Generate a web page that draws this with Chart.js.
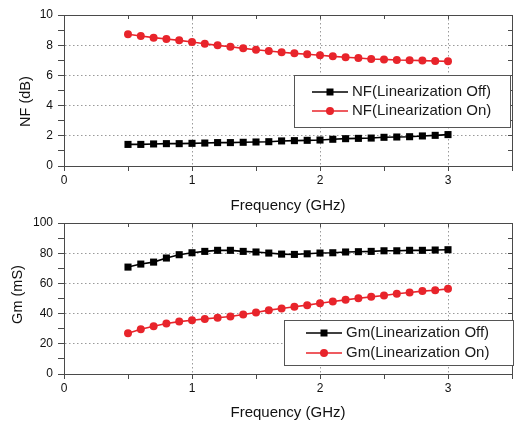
<!DOCTYPE html>
<html>
<head>
<meta charset="utf-8">
<script src="https://cdn.jsdelivr.net/npm/chart.js@4.4.0/dist/chart.umd.min.js"></script>
<style>
html, body { margin: 0; padding: 0; background: #fff; }
#wrap { position: relative; width: 517px; height: 423px; overflow: hidden; }
.panel { position: absolute; left: 0; width: 517px; }
</style>
</head>
<body>
<div id="wrap">
  <div class="panel" style="top:0;height:216px"><canvas id="nfChart" width="517" height="216"></canvas></div>
  <div class="panel" style="top:210px;height:213px"><canvas id="gmChart" width="517" height="213"></canvas></div>
</div>
<script>
// frequency points, GHz
const freq = [0.5, 0.6, 0.7, 0.8, 0.9, 1.0, 1.1, 1.2, 1.3, 1.4, 1.5, 1.6, 1.7,
              1.8, 1.9, 2.0, 2.1, 2.2, 2.3, 2.4, 2.5, 2.6, 2.7, 2.8, 2.9, 3.0];

// noise figure, dB
const nfOff = [1.43, 1.43, 1.46, 1.48, 1.48, 1.50, 1.52, 1.55, 1.55, 1.57, 1.59, 1.61, 1.66,
               1.68, 1.70, 1.72, 1.77, 1.81, 1.83, 1.85, 1.90, 1.92, 1.94, 1.99, 2.03, 2.08];
const nfOn  = [8.72, 8.61, 8.50, 8.41, 8.32, 8.21, 8.10, 7.99, 7.90, 7.79, 7.70, 7.62, 7.53,
               7.46, 7.40, 7.33, 7.26, 7.20, 7.15, 7.09, 7.06, 7.02, 7.00, 6.98, 6.95, 6.93];

// transconductance, mS
const gmOff = [70.8, 72.8, 74.1, 76.8, 79.0, 80.3, 81.2, 81.9, 81.9, 81.2, 80.8, 80.1, 79.4,
               79.2, 79.6, 80.1, 80.3, 80.8, 81.0, 81.2, 81.6, 81.6, 81.9, 81.9, 82.1, 82.3];
const gmOn  = [27.0, 29.6, 31.6, 33.4, 34.7, 35.6, 36.5, 37.2, 38.1, 39.4, 40.7, 42.3, 43.4,
               44.5, 45.6, 46.9, 48.0, 49.1, 50.2, 51.1, 52.0, 53.1, 54.0, 54.9, 55.5, 56.4];

const nfLabels = ["NF(Linearization Off)", "NF(Linearization On)"];
const gmLabels = ["Gm(Linearization Off)", "Gm(Linearization On)"];

const FONT = "'Liberation Sans', Arial, sans-serif";
const AXIS = "#4a4a4a";
const GRID = "#9a9a9a";
const RED = "#e8242b";
const NONE = "rgba(0,0,0,0)";

function pts(ys) {
    return freq.map((f, i) => ({ x: f, y: ys[i] }));
}

// legend drawn as a framed box inside the plot
const boxLegend = {
    id: "boxLegend",
    afterDraw(chart, args, opts) {
        const ctx = chart.ctx;
        ctx.save();
        ctx.fillStyle = "#fff";
        ctx.fillRect(opts.left, opts.top, opts.width, opts.height);
        ctx.strokeStyle = "#555";
        ctx.lineWidth = 1;
        ctx.strokeRect(opts.left + 0.5, opts.top + 0.5, opts.width, opts.height);
        ctx.font = "15px " + FONT;
        ctx.textBaseline = "middle";
        chart.data.datasets.forEach((ds, i) => {
            const y = opts.top + opts.rows[i];
            const x0 = opts.left + opts.lineX;
            const x1 = x0 + 36;
            ctx.strokeStyle = ds.borderColor;
            ctx.lineWidth = 1.6;
            ctx.beginPath();
            ctx.moveTo(x0, y);
            ctx.lineTo(x1, y);
            ctx.stroke();
            ctx.fillStyle = ds.borderColor;
            const cx = (x0 + x1) / 2;
            ctx.beginPath();
            if (ds.pointStyle === "rect") {
                ctx.rect(cx - 3.5, y - 3.5, 7, 7);
            } else {
                ctx.arc(cx, y, 4, 0, Math.PI * 2);
            }
            ctx.fill();
            ctx.fillStyle = "#1a1a1a";
            ctx.fillText(ds.label, x1 + 4, y);
        });
        ctx.restore();
    }
};

// rotated y title, placed a little off the axis centre like the original
const yTitle = {
    id: "yTitle",
    afterDraw(chart, args, opts) {
        const ctx = chart.ctx;
        const a = chart.chartArea;
        ctx.save();
        ctx.translate(opts.x, (a.top + a.bottom) / 2 + opts.dy);
        ctx.rotate(-Math.PI / 2);
        ctx.font = "14.5px " + FONT;
        ctx.fillStyle = "#111";
        ctx.textAlign = "center";
        ctx.textBaseline = "middle";
        ctx.fillText(opts.text, 0, 0);
        ctx.restore();
    }
};

function makeChart(id, labels, offData, onData, yMax, yStep, yLabelStep, cfg) {
    const yMinor = (v) => Math.abs(v / yLabelStep - Math.round(v / yLabelStep)) > 1e-6;
    return new Chart(document.getElementById(id), {
        type: "line",
        data: {
            datasets: [
                {
                    label: labels[0], data: pts(offData),
                    borderColor: "#000", backgroundColor: "#000",
                    borderWidth: 1.6, pointStyle: "rect", pointRadius: 5,
                    pointBorderWidth: 0
                },
                {
                    label: labels[1], data: pts(onData),
                    borderColor: RED, backgroundColor: RED,
                    borderWidth: 1.6, pointStyle: "circle", pointRadius: 4,
                    pointBorderWidth: 0
                }
            ]
        },
        options: {
            responsive: false,
            animation: false,
            layout: { padding: { top: cfg.padTop, right: 1, left: 0, bottom: 0 } },
            plugins: {
                legend: { display: false },
                tooltip: { enabled: false },
                boxLegend: cfg.legend,
                yTitle: cfg.yTitle
            },
            scales: {
                x: {
                    type: "linear", min: 0, max: 3.5,
                    afterFit: (s) => { s.height = cfg.xHeight; },
                    ticks: {
                        stepSize: 0.5, autoSkip: false, maxRotation: 0, padding: 2,
                        color: "#111", font: { family: FONT, size: 12 },
                        callback: (v) => (v % 1 === 0 ? v : "")
                    },
                    grid: {
                        color: (c) => (c.tick && c.tick.value % 1 === 0 && c.tick.value > 0 && c.tick.value < 3.5) ? GRID : NONE,
                        tickColor: AXIS, tickLength: 5, lineWidth: 1
                    },
                    border: { color: AXIS, width: 1, dash: [1.5, 2.5] },
                    title: {
                        display: true, text: "Frequency (GHz)", color: "#111",
                        font: { family: FONT, size: 15 }, padding: { top: 0, bottom: 1 }
                    }
                },
                y: {
                    min: 0, max: yMax,
                    afterFit: (s) => { s.width = 64; },
                    ticks: {
                        stepSize: yStep, autoSkip: false, padding: 5,
                        color: "#111", font: { family: FONT, size: 12 },
                        callback: (v) => (yMinor(v) ? "" : v)
                    },
                    grid: {
                        color: (c) => (c.tick && !yMinor(c.tick.value) && c.tick.value > 0 && c.tick.value < yMax) ? GRID : NONE,
                        tickColor: AXIS, tickLength: 6, lineWidth: 1
                    },
                    border: { color: AXIS, width: 1, dash: [1.5, 2.5] }
                },
                x2: {
                    type: "linear", position: "top", min: 0, max: 3.5,
                    afterFit: (s) => { s.height = 0; },
                    ticks: { display: false, stepSize: 0.5 },
                    grid: { drawOnChartArea: false, drawTicks: true, tickLength: -4, tickColor: AXIS, color: NONE },
                    border: { color: AXIS, width: 1 }
                },
                y2: {
                    position: "right", min: 0, max: yMax,
                    afterFit: (s) => { s.width = 0; },
                    ticks: { display: false, stepSize: yStep },
                    grid: { drawOnChartArea: false, drawTicks: true, tickLength: -4, tickColor: AXIS, color: NONE },
                    border: { color: AXIS, width: 1 }
                }
            }
        },
        plugins: [boxLegend, yTitle]
    });
}

makeChart("nfChart", nfLabels, nfOff, nfOn, 10, 1, 2, {
    padTop: 15, xHeight: 50,
    yTitle: { text: "NF (dB)", x: 25.5, dy: 11 },
    legend: { left: 294, top: 75, width: 216, height: 52, lineX: 18, rows: [17, 36] }
});

makeChart("gmChart", gmLabels, gmOff, gmOn, 100, 10, 20, {
    padTop: 13, xHeight: 49,
    yTitle: { text: "Gm (mS)", x: 17.5, dy: -4 },
    legend: { left: 284, top: 110, width: 229, height: 45, lineX: 22, rows: [13, 33] }
});
</script>
</body>
</html>
